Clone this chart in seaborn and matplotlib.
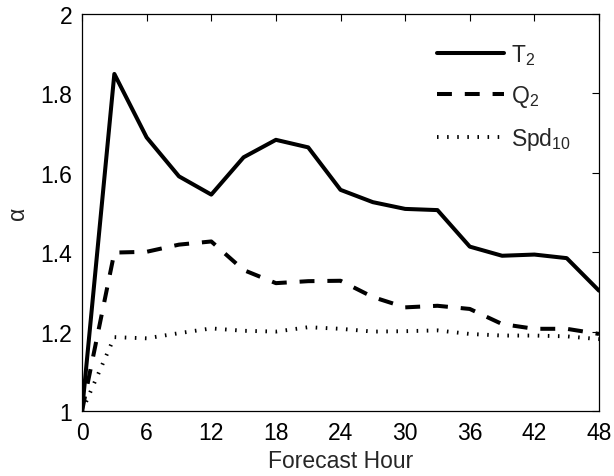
import matplotlib
matplotlib.use('Agg')
import pandas as pd
import matplotlib.pyplot as plt
import seaborn as sns

# dados
horas = [0, 3, 6, 9, 12, 15, 18, 21, 24, 27, 30, 33, 36, 39, 42, 45, 48]
t2 = [1.00, 1.849, 1.689, 1.591, 1.545, 1.639, 1.683, 1.664, 1.557, 1.526,
      1.509, 1.506, 1.414, 1.391, 1.394, 1.385, 1.303]
q2 = [1.00, 1.399, 1.401, 1.419, 1.427, 1.355, 1.322, 1.327, 1.328, 1.287,
      1.261, 1.265, 1.257, 1.219, 1.207, 1.207, 1.194]
spd10 = [1.00, 1.186, 1.183, 1.196, 1.208, 1.202, 1.200, 1.211, 1.207, 1.200,
         1.201, 1.203, 1.194, 1.190, 1.190, 1.188, 1.181]
x_ticks = [0, 6, 12, 18, 24, 30, 36, 42, 48]
y_ticks = [1, 1.2, 1.4, 1.6, 1.8, 2]
y_tick_labels = ['1', '1.2', '1.4', '1.6', '1.8', '2']

df = pd.DataFrame({'hora': horas, 'T2': t2, 'Q2': q2, 'Spd10': spd10})

sns.set_style('white')
plt.rcParams['font.family'] = ['Liberation Sans', 'DejaVu Sans']
plt.rcParams['mathtext.default'] = 'regular'

fs = 16.5

fig = plt.figure(figsize=(6.14, 4.77), dpi=100)
ax = fig.add_axes([0.1336, 0.1363, 0.8420, 0.8323])

sns.lineplot(x='hora', y='T2', data=df, ax=ax, color='black', linewidth=2.9,
             label='T$_2$')
sns.lineplot(x='hora', y='Q2', data=df, ax=ax, color='black', linewidth=2.9,
             label='Q$_2$')
sns.lineplot(x='hora', y='Spd10', data=df, ax=ax, color='black', linewidth=2.8,
             label='Spd$_{10}$')
ax.lines[1].set_dashes((3.7, 3.2))
ax.lines[2].set_dashes((0.4, 2.2))

ax.set_xlim(0, 48)
ax.set_ylim(1, 2)
ax.set_xticks(x_ticks)
ax.set_xticklabels([str(v) for v in x_ticks])
ax.set_yticks(y_ticks)
ax.set_yticklabels(y_tick_labels)
ax.tick_params(direction='in', top=True, right=True, length=5, width=0.8,
               labelsize=fs, color='black', labelcolor='black', pad=7)
for s in ax.spines.values():
    s.set_color('black')
    s.set_linewidth(0.9)

ax.set_xlabel('Forecast Hour', fontsize=fs, labelpad=4)
ax.set_ylabel('α', fontsize=fs, labelpad=8)

leg = ax.legend(loc='upper left', bbox_to_anchor=(0.687, 0.93), frameon=False,
                fontsize=fs, handlelength=2.9, handletextpad=0.3,
                labelspacing=0.7, borderpad=0, borderaxespad=0)

plt.savefig('out.png', dpi=100)
plt.close()
